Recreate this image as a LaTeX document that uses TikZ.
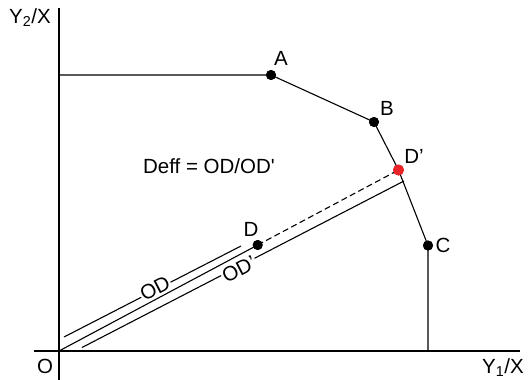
\documentclass[tikz,border=0pt]{standalone}
\usepackage{fontspec}
\setmainfont{Liberation Sans}
\definecolor{dred}{RGB}{232,36,40}
\begin{document}
\begin{tikzpicture}[x=1pt,y=-1pt,
  every node/.style={font=\fontsize{20.5}{24}\selectfont, inner sep=0pt},
  ln/.style={line width=1.1pt, black},
  axisln/.style={line width=1.3pt, black},
  dot/.style={circle, fill=black, minimum size=10pt, inner sep=0pt},
  rdot/.style={circle, fill=dred, minimum size=11pt, inner sep=0pt},
  lab/.style={fill=white, inner sep=1pt, rotate=27.3}]
\useasboundingbox (0,0) rectangle (528,380);
% axes
\coordinate (ytop) at (59,8);
\coordinate (ybot) at (59,380);
\coordinate (xl) at (34,351);
\coordinate (xr) at (520,351);
\coordinate (O) at (59,351);
\draw[axisln] (ytop) -- (ybot);
\draw[axisln] (xl) -- (xr);
% points
\node[dot] (A) at (271,75) {};
\node[dot] (B) at (374,122) {};
\node[rdot] (Dp) at (398.5,170) {};
\node[dot] (C) at (428,245.5) {};
\node[dot] (D) at (257.7,245) {};
\coordinate (Ay) at (59,75);
\coordinate (Cx) at (428,351);
% frontier
\draw[ln] (Ay) -- (A.center) -- (B.center) -- (Dp.center) -- (C.center) -- (Cx);
% ray
\draw[ln] (O) -- (D.center);
\draw[ln, dash pattern=on 6pt off 3.5pt] (D.center) -- (Dp.center);
% parallel measure lines
\coordinate (u1) at (64,337);
\coordinate (u2) at (241,246);
\coordinate (l1) at (82,347.5);
\coordinate (l2) at (404,181);
\draw[ln] (u1) -- (u2);
\draw[ln] (l1) -- (l2);
\node[lab] (odlab) at (155,288) {OD};
\node[lab] (odplab) at (239,269) {OD\textquoteright};
% redraw dots on top
\node[dot] at (A) {};
\node[dot] at (B) {};
\node[rdot] at (Dp) {};
\node[dot] at (C) {};
\node[dot] at (D) {};
% labels
\node (lA) at (281,58.5) {A};
\node (lB) at (387,108) {B};
\node (lDp) at (414,156.5) {D\textquoteright};
\node (lC) at (443,245) {C};
\node (lD) at (251,229.5) {D};
\node (lO) at (45,366) {O};
\node (ly) at (30,18) {Y\textsubscript{2}/X};
\node (lx) at (503,368) {Y\textsubscript{1}/X};
\node (deff) at (209,166.5) {Deff = OD/OD\textquotesingle};
\end{tikzpicture}
\end{document}
